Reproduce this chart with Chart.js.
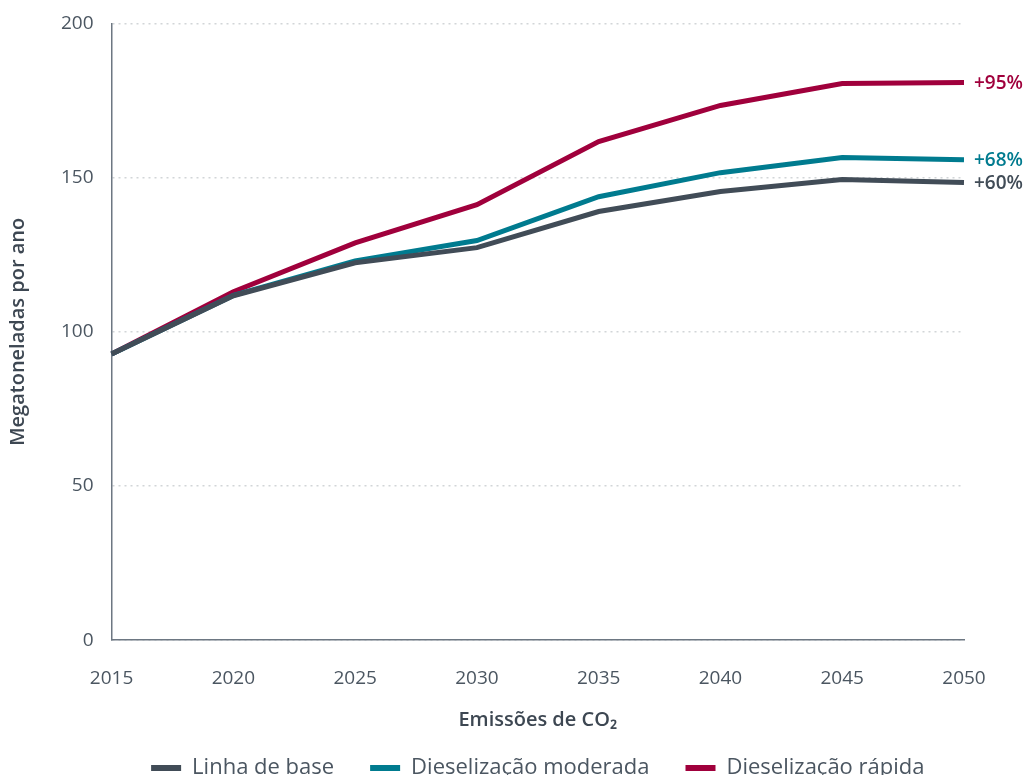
<!DOCTYPE html>
<html lang="pt">
<head>
<meta charset="utf-8">
<title>Emissões de CO₂</title>
<script src="https://cdn.jsdelivr.net/npm/chart.js@4/dist/chart.umd.min.js"></script>
<style>
  html, body { margin: 0; padding: 0; background: #ffffff; overflow: hidden; }
  #wrap { position: relative; width: 1029px; height: 789px; }
</style>
</head>
<body>
<div id="wrap"><canvas id="chart"></canvas></div>
<script>
// Years on the horizontal axis
const years = ['2015', '2020', '2025', '2030', '2035', '2040', '2045', '2050'];

// Annual CO2 emissions per scenario (megatonnes per year)
const baseline = [92.8, 111.7, 122.4, 127.3, 139.0, 145.5, 149.4, 148.4];
const moderate = [92.8, 111.8, 123.0, 129.6, 143.8, 151.6, 156.5, 155.8];
const rapid    = [92.8, 113.0, 128.8, 141.2, 161.7, 173.4, 180.5, 180.8];

// Growth labels shown at the end of each line
const endLabels = ['+60%', '+68%', '+95%'];

const seriesNames = ['Linha de base', 'Dieselização moderada', 'Dieselização rápida'];
const seriesColors = ['#414c57', '#007b8f', '#a0003c'];

const textColor = '#4b5661';
const titleColor = '#3d4752';
const fontFamily = '"Open Sans", "Liberation Sans", sans-serif';

// Draws the percentage label to the right of each line's last point
const endLabelPlugin = {
  id: 'endLabels',
  afterDatasetsDraw(chart) {
    const ctx = chart.ctx;
    ctx.save();
    ctx.font = '600 19px ' + fontFamily;
    ctx.textAlign = 'left';
    ctx.textBaseline = 'middle';
    chart.data.datasets.forEach((ds, i) => {
      const meta = chart.getDatasetMeta(i);
      const last = meta.data[meta.data.length - 1];
      ctx.fillStyle = ds.borderColor;
      ctx.fillText(endLabels[i], last.x + 10, last.y + 1);
    });
    ctx.restore();
  }
};

const datasets = [baseline, moderate, rapid].map((values, i) => ({
  label: seriesNames[i],
  data: values,
  borderColor: seriesColors[i],
  backgroundColor: seriesColors[i],
  borderWidth: 5,
  pointRadius: 0,
  pointHoverRadius: 0,
  tension: 0,
  fill: false
}));

new Chart(document.getElementById('chart'), {
  type: 'line',
  data: { labels: years, datasets },
  plugins: [endLabelPlugin],
  options: {
    responsive: true,
    maintainAspectRatio: false,
    animation: false,
    layout: { padding: { top: 6, right: 65, left: 0, bottom: 0 } },
    plugins: {
      tooltip: { enabled: false },
      legend: {
        position: 'bottom',
        fullSize: false,
        labels: {
          color: textColor,
          font: { family: fontFamily, size: 22 },
          boxWidth: 30,
          boxHeight: 6,
          padding: 36,
          // flat colour bars without the dataset's thick outline
          generateLabels(chart) {
            return Chart.defaults.plugins.legend.labels.generateLabels(chart)
              .map(item => Object.assign(item, { lineWidth: 0 }));
          }
        }
      }
    },
    scales: {
      x: {
        offset: false,
        grid: { display: false, drawTicks: false },
        border: { display: true, color: '#6d7782', width: 1.5 },
        ticks: {
          color: textColor,
          font: { family: fontFamily, size: 19 },
          maxRotation: 0,
          padding: 27
        },
        title: {
          display: true,
          text: 'Emissões de CO₂',
          color: titleColor,
          font: { family: fontFamily, size: 20, weight: '600' },
          padding: { top: -9, bottom: -11 }
        }
      },
      y: {
        min: 0,
        max: 200,
        grid: {
          color: '#d2d5d8',
          lineWidth: 1.5,
          drawTicks: true,
          tickLength: 6,
          tickColor: 'rgba(0,0,0,0)'
        },
        border: { display: true, color: '#6d7782', width: 1.5, dash: [2, 4] },
        ticks: {
          stepSize: 50,
          color: textColor,
          font: { family: fontFamily, size: 19 },
          padding: 12
        },
        title: {
          display: true,
          text: 'Megatoneladas por ano',
          color: titleColor,
          font: { family: fontFamily, size: 20, weight: '600' },
          padding: { top: 6, bottom: 19 }
        }
      }
    }
  }
});
</script>
</body>
</html>
